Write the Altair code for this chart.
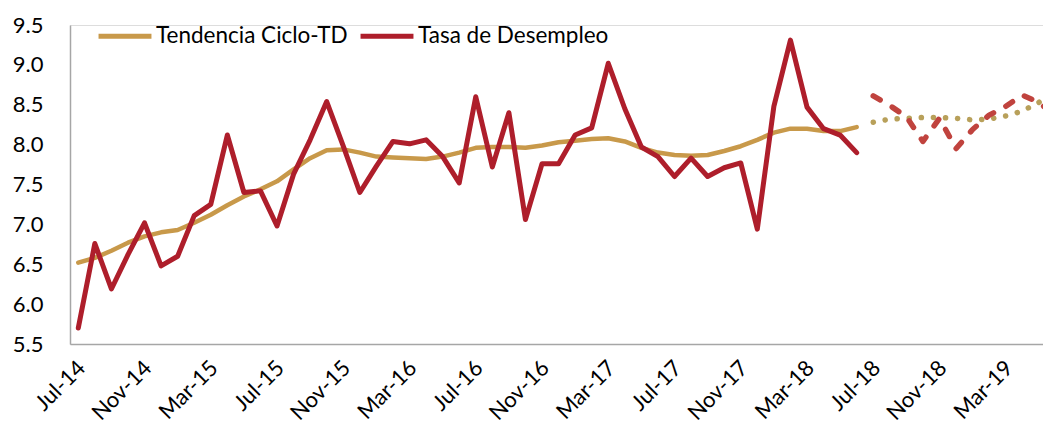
import altair as alt
import pandas as pd

# ---- data ----
tick_labels = ["Jul-14", "Nov-14", "Mar-15", "Jul-15", "Nov-15", "Mar-16", "Jul-16",
               "Nov-16", "Mar-17", "Jul-17", "Nov-17", "Mar-18", "Jul-18", "Nov-18", "Mar-19"]

series_names = ["Tendencia Ciclo-TD", "Tasa de Desempleo"]

tasa = [5.70, 6.76, 6.19, 6.62, 7.02, 6.48, 6.60, 7.11, 7.25, 8.12,
        7.40, 7.42, 6.98, 7.63, 8.06, 8.54, 7.98, 7.40, 7.73, 8.04,
        8.01, 8.06, 7.85, 7.52, 8.60, 7.72, 8.40, 7.06, 7.76, 7.76,
        8.12, 8.21, 9.02, 8.45, 7.97, 7.85, 7.60, 7.83, 7.60, 7.71,
        7.77, 6.94, 8.48, 9.31, 8.47, 8.20, 8.12, 7.90]

tendencia = [6.52, 6.58, 6.67, 6.77, 6.85, 6.90, 6.93, 7.02, 7.12, 7.24,
             7.35, 7.44, 7.54, 7.69, 7.83, 7.93, 7.94, 7.90, 7.85, 7.84,
             7.83, 7.82, 7.85, 7.90, 7.96, 7.97, 7.97, 7.96, 7.99, 8.03,
             8.05, 8.07, 8.08, 8.04, 7.96, 7.90, 7.87, 7.86, 7.87, 7.92,
             7.98, 8.06, 8.15, 8.20, 8.20, 8.17, 8.17, 8.22]

tasa_proy = [8.61, 8.49, 8.35, 8.04, 8.33, 7.95, 8.19, 8.37, 8.48, 8.62, 8.53, 8.36]
tend_proy = [8.28, 8.32, 8.33, 8.34, 8.34, 8.33, 8.31, 8.32, 8.36, 8.42, 8.53, 8.65]

n_hist = len(tasa)

hist_tend = pd.DataFrame({"idx": list(range(n_hist)), "valor": tendencia, "serie": series_names[0]})
hist_tasa = pd.DataFrame({"idx": list(range(n_hist)), "valor": tasa, "serie": series_names[1]})
proy_tasa = pd.DataFrame({"idx": list(range(n_hist, n_hist + len(tasa_proy))), "valor": tasa_proy})
proy_tend = pd.DataFrame({"idx": list(range(n_hist, n_hist + len(tend_proy))), "valor": tend_proy})

GOLD = "#C8994A"
RED = "#AE1E2B"
GOLD_DOT = "#B8A05A"
RED_DASH = "#C0433E"
FONT = "Lato"

label_arr = "[" + ",".join("'" + t + "'" for t in tick_labels) + "]"

x_enc = alt.X(
    "idx:Q",
    scale=alt.Scale(domain=[-0.5, 58.25], nice=False, zero=False),
    axis=alt.Axis(
        values=list(range(0, 4 * len(tick_labels), 4)),
        labelExpr=label_arr + "[round(datum.value / 4)]",
        labelAngle=-45,
        labelAlign="right",
        labelBaseline="middle",
        labelPadding=20,
        labelOffset=3,
        labelFontSize=22,
        labelFont=FONT,
        labelColor="#000000",
        labelOverlap=False,
        labelFlush=False,
        labelBound=False,
        ticks=False,
        grid=False,
        domainColor="#A6A6A6",
        domainWidth=1.5,
        title=None,
    ),
)

y_enc = alt.Y(
    "valor:Q",
    scale=alt.Scale(domain=[5.5, 9.5], nice=False, zero=False),
    axis=alt.Axis(
        values=[5.5, 6.0, 6.5, 7.0, 7.5, 8.0, 8.5, 9.0, 9.5],
        format=".1f",
        labelPadding=27,
        labelFontSize=22,
        labelFont=FONT,
        labelColor="#000000",
        ticks=False,
        grid=False,
        domainColor="#A6A6A6",
        domainWidth=1.5,
        title=None,
    ),
)

color_scale = alt.Scale(domain=series_names, range=[GOLD, RED])
legend = alt.Legend(
    title=None,
    orient="none",
    direction="horizontal",
    legendX=26,
    legendY=-18,
    symbolType="stroke",
    symbolSize=2800,
    symbolStrokeWidth=5,
    labelFontSize=22.5,
    labelFont=FONT,
    labelColor="#000000",
    labelLimit=400,
    labelOffset=2,
    columnPadding=2,
    padding=0,
)
color_enc = alt.Color("serie:N", scale=color_scale, legend=legend)

line_tend = alt.Chart(hist_tend).mark_line(
    strokeWidth=4.5, strokeCap="round", strokeJoin="round", clip=True
).encode(x=x_enc, y=y_enc, color=color_enc)

line_tasa = alt.Chart(hist_tasa).mark_line(
    strokeWidth=5, strokeCap="round", strokeJoin="round", clip=True
).encode(x=x_enc, y=y_enc, color=color_enc)

line_tend_p = alt.Chart(proy_tend).mark_line(
    strokeWidth=5.5, strokeCap="round", strokeDash=[0.1, 12], color=GOLD_DOT, clip=True
).encode(x=x_enc, y=y_enc)

line_tasa_p = alt.Chart(proy_tasa).mark_line(
    strokeWidth=5.5, strokeCap="round", strokeJoin="round", strokeDash=[8, 14], color=RED_DASH, clip=True
).encode(x=x_enc, y=y_enc)

chart = alt.layer(line_tend, line_tasa, line_tend_p, line_tasa_p).properties(
    width=973,
    height=319,
    padding={"left": 62, "top": 17, "right": 0, "bottom": 82},
    autosize=alt.AutoSizeParams(type="none"),
).configure_view(stroke=None).configure(background="#FFFFFF")

chart.save("out.html", embed_options={"renderer": "svg", "actions": False})
